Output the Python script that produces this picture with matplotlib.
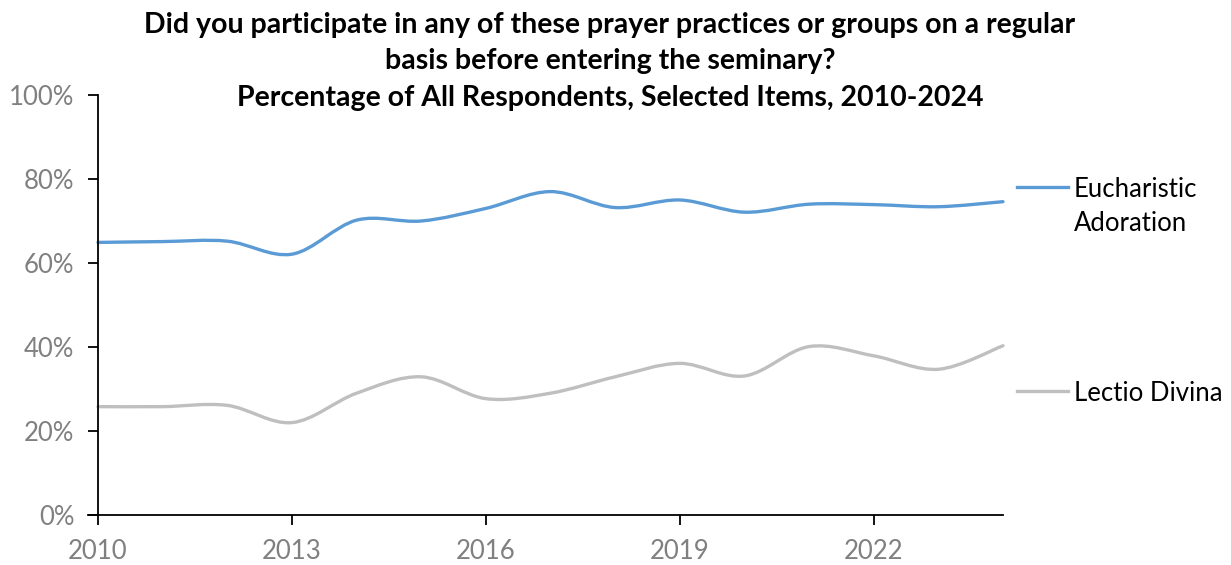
import matplotlib
matplotlib.use("Agg")
import matplotlib.pyplot as plt
from matplotlib.path import Path
from matplotlib.patches import PathPatch
from matplotlib.lines import Line2D
import numpy as np

years = list(range(2010, 2025))
eucharistic = [64.9, 65.1, 65.2, 62.1, 70.2, 70.0, 73.0, 77.0, 73.2, 75.0, 72.1, 74.0, 73.9, 73.4, 74.6]
lectio = [25.8, 25.8, 26.1, 22.0, 29.0, 32.9, 27.7, 29.0, 32.9, 36.1, 33.1, 40.1, 37.9, 34.7, 40.3]
series_names = ["Eucharistic\nAdoration", "Lectio Divina"]
colors = ["#5B9BD5", "#BFBFBF"]
title = ("Did you participate in any of these prayer practices or groups on a regular\n"
         "basis before entering the seminary?\n"
         "Percentage of All Respondents, Selected Items, 2010-2024")
xticks = [2010, 2013, 2016, 2019, 2022]
yticks = [0, 20, 40, 60, 80, 100]

FONT = "Lato"
TICKGRAY = "#808080"

fig = plt.figure(figsize=(12.31, 5.65), dpi=100)
ax = fig.add_axes([98/1231, 1-515/565, (1003-98)/1231, (515-95)/565])


def smooth_path(xs, ys):
    xs = np.asarray(xs, float)
    ys = np.asarray(ys, float)
    pts = np.column_stack([xs, ys])
    n = len(pts)
    verts = [pts[0]]
    codes = [Path.MOVETO]
    for i in range(n - 1):
        p0 = pts[i - 1] if i > 0 else pts[i]
        p1 = pts[i]
        p2 = pts[i + 1]
        p3 = pts[i + 2] if i + 2 < n else pts[i + 1]
        c1 = p1 + (p2 - p0) / 6.0
        c2 = p2 - (p3 - p1) / 6.0
        verts += [c1, c2, p2]
        codes += [Path.CURVE4] * 3
    return Path(verts, codes)


for vals, col in zip([eucharistic, lectio], colors):
    patch = PathPatch(smooth_path(years, vals), facecolor="none", edgecolor=col,
                      lw=2.4, capstyle="round", joinstyle="round", clip_on=False)
    ax.add_patch(patch)

ax.set_xlim(2010, 2024)
ax.set_ylim(0, 100)
ax.set_xticks(xticks)
ax.set_xticklabels([str(t) for t in xticks])
ax.set_yticks(yticks)
ax.set_yticklabels([f"{t}%" for t in yticks])

for s in ["top", "right"]:
    ax.spines[s].set_visible(False)
for s in ["left", "bottom"]:
    ax.spines[s].set_color("black")
    ax.spines[s].set_linewidth(1.3)

ax.tick_params(axis="both", direction="out", length=7, width=1.3, colors="black",
               labelcolor=TICKGRAY, labelsize=18.5)
ax.tick_params(axis="y", pad=10)
ax.tick_params(axis="x", pad=10)
for lab in ax.get_xticklabels() + ax.get_yticklabels():
    lab.set_fontfamily(FONT)

# extend x-axis slightly to the left of y-axis (cross at origin)
ax.plot([-0.011, 0], [0, 0], transform=ax.transAxes, color="black", lw=1.3, clip_on=False)

fig.text(610/1231, 1-12/565, title, ha="center", va="top", fontfamily=FONT,
         fontweight="bold", fontsize=20.5, linespacing=1.5)

# series labels at right
label_y_px = [187, 391]
for name, col, ypx in zip(series_names, colors, label_y_px):
    yf = 1 - ypx/565
    fig.add_artist(Line2D([1017/1231, 1068/1231], [yf, yf], color=col, lw=2.4,
                          transform=fig.transFigure))
    fig.text(1074/1231, yf + 10/565, name, ha="left", va="top", fontfamily=FONT,
             fontsize=18.5, color="black", linespacing=1.47)

fig.savefig("out.png", dpi=100)
